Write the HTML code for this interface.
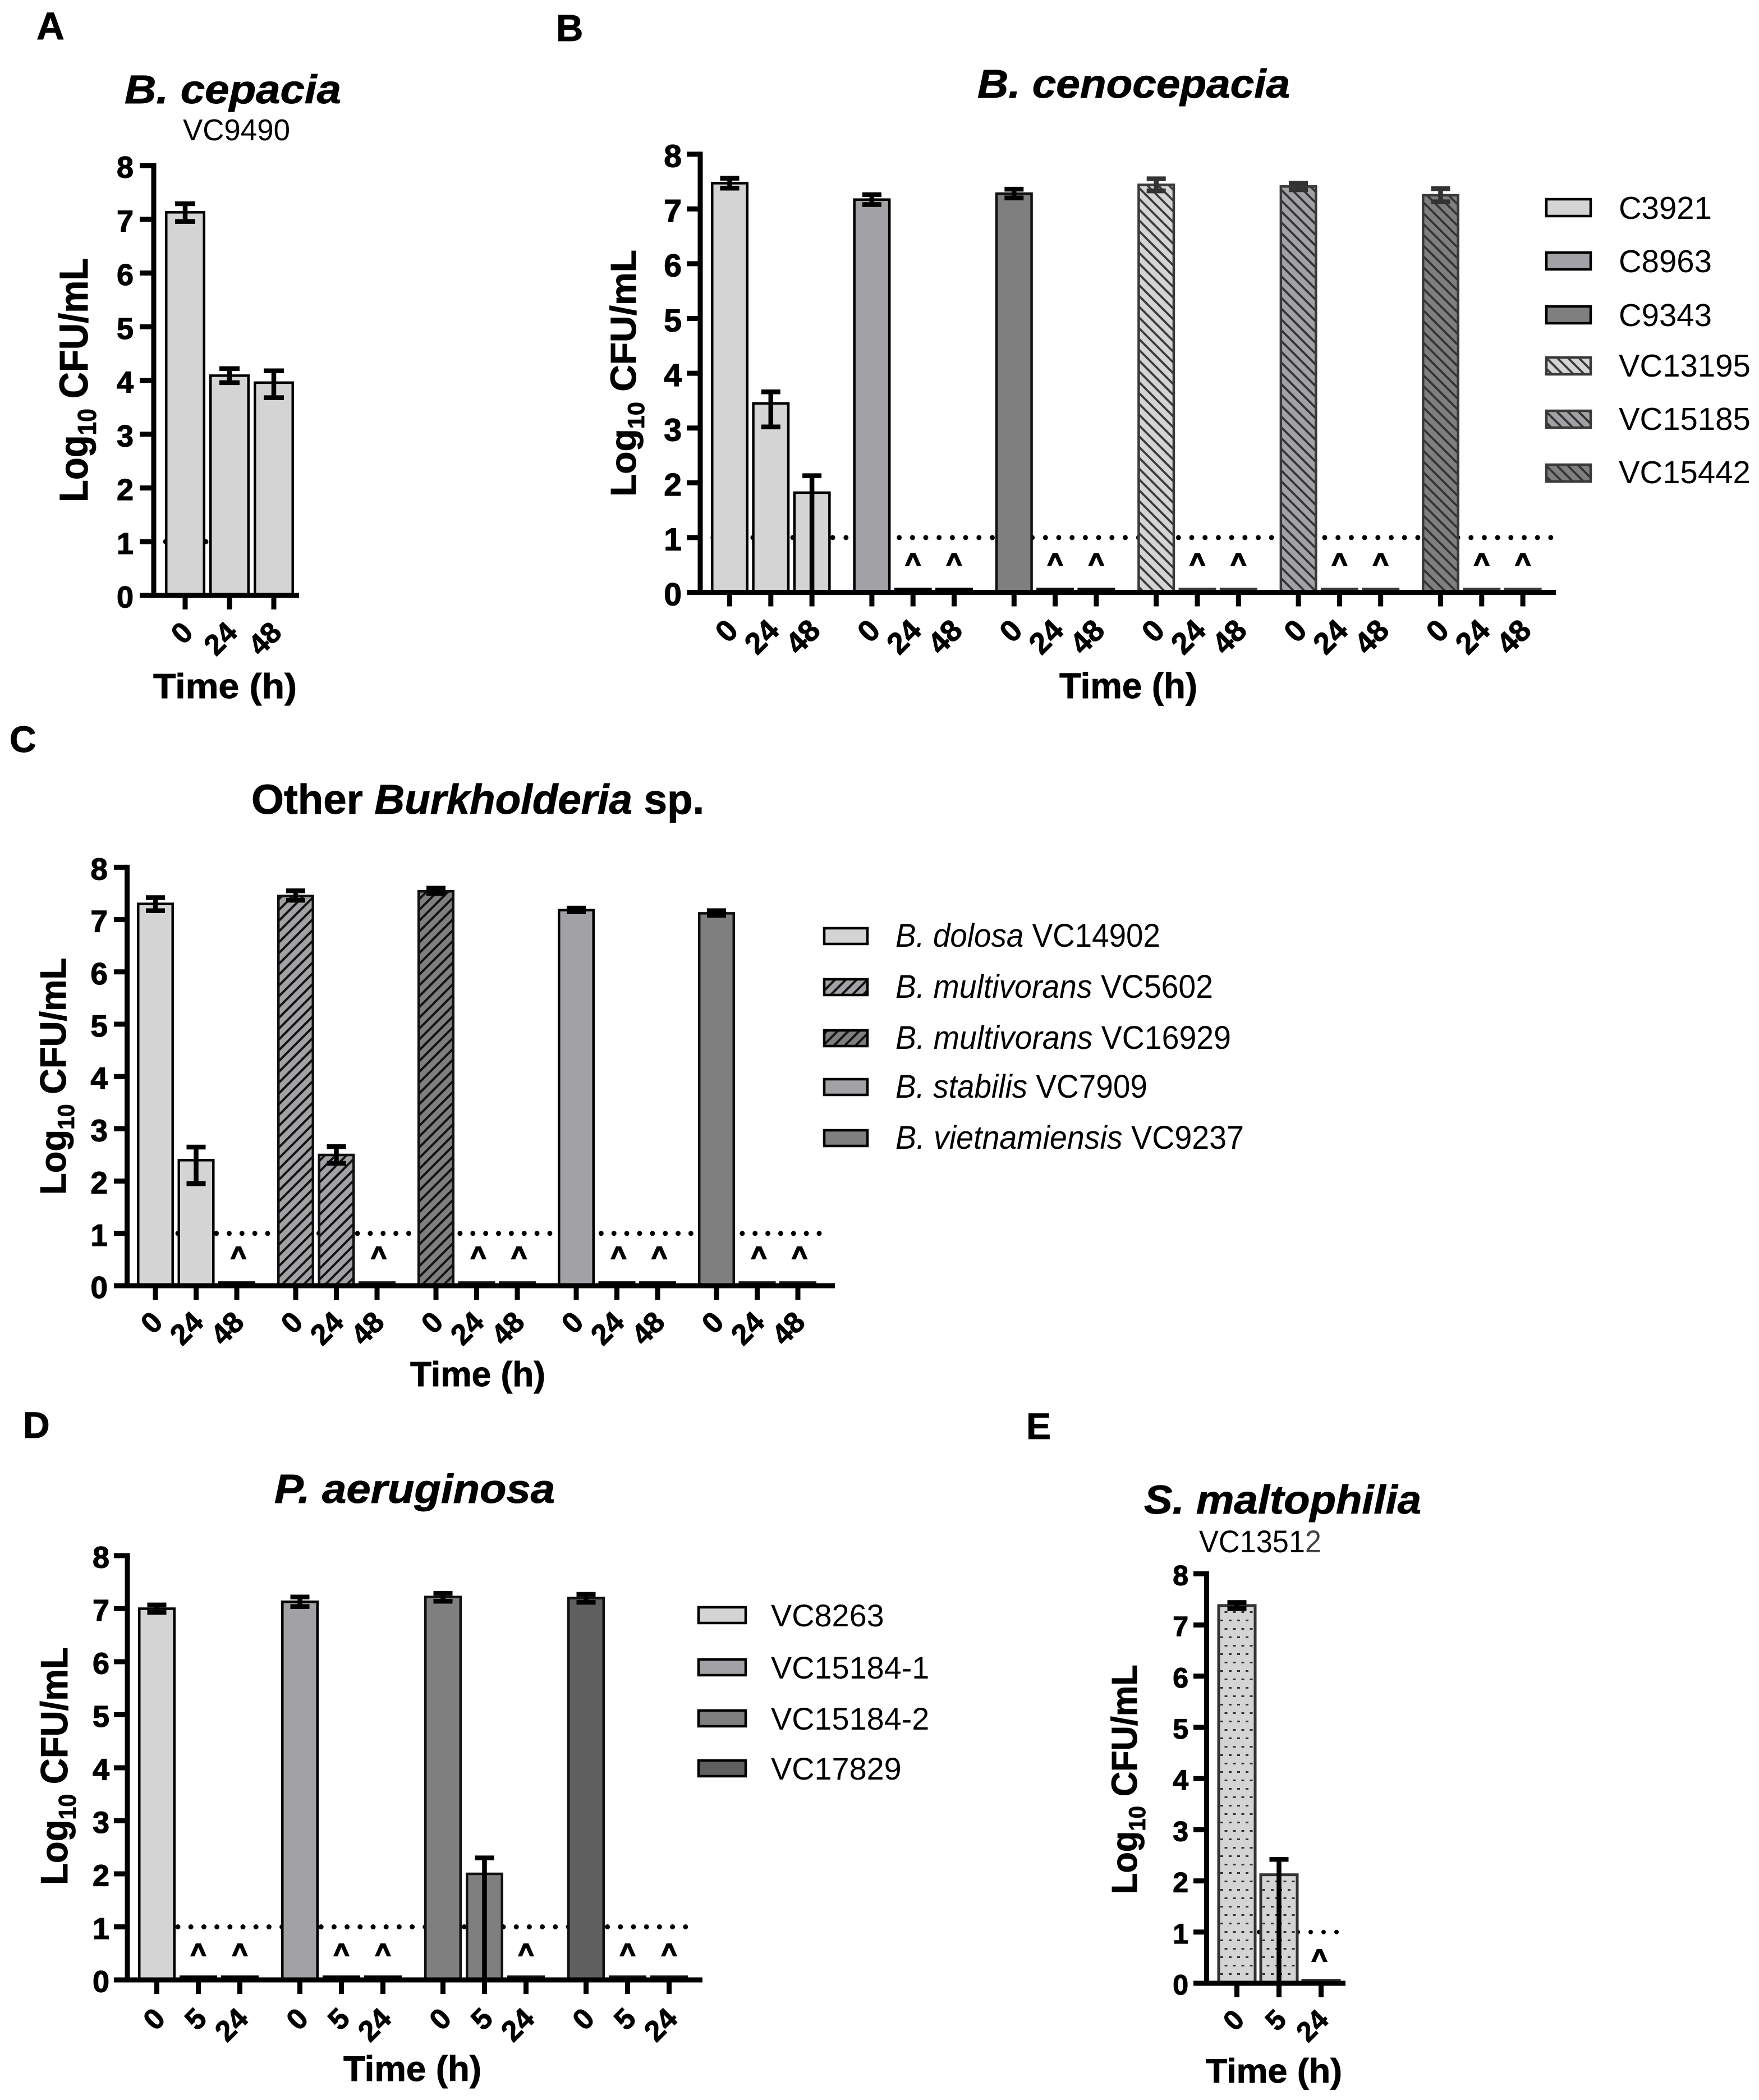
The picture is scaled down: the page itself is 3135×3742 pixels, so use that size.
<!DOCTYPE html>
<html>
<head>
<meta charset="utf-8">
<title>Log10 CFU/mL time-kill charts</title>
<style>
html,body{margin:0;padding:0;background:#fff;}
svg{display:block;font-family:"Liberation Sans",Arial,sans-serif;}
text{white-space:pre;}
.b{font-weight:bold;stroke:#000;stroke-width:.9px;}
.bi{font-weight:bold;font-style:italic;stroke:#000;stroke-width:.9px;}
.i{font-style:italic;}
tspan.bi{stroke:#000;}
</style>
</head>
<body>
<svg id="figure" xmlns="http://www.w3.org/2000/svg" width="3135" height="3742" viewBox="0 0 3135 3742">
<defs>
  <pattern id="hB1" patternUnits="userSpaceOnUse" width="13.6" height="13.6" patternTransform="rotate(-45)"><rect width="13.6" height="13.6" fill="#d4d4d4"/><rect width="3.8" height="13.6" fill="#3a3a3a"/></pattern>
  <pattern id="hB2" patternUnits="userSpaceOnUse" width="13.6" height="13.6" patternTransform="rotate(-45)"><rect width="13.6" height="13.6" fill="#a2a1a5"/><rect width="3.8" height="13.6" fill="#333"/></pattern>
  <pattern id="hB3" patternUnits="userSpaceOnUse" width="13.6" height="13.6" patternTransform="rotate(-45)"><rect width="13.6" height="13.6" fill="#7f7f7f"/><rect width="3.8" height="13.6" fill="#333"/></pattern>
  <pattern id="hC1" patternUnits="userSpaceOnUse" width="13.6" height="13.6" patternTransform="rotate(45)"><rect width="13.6" height="13.6" fill="#a2a1a5"/><rect width="4" height="13.6" fill="#111"/></pattern>
  <pattern id="hC2" patternUnits="userSpaceOnUse" width="13.6" height="13.6" patternTransform="rotate(45)"><rect width="13.6" height="13.6" fill="#7f7f7f"/><rect width="4" height="13.6" fill="#111"/></pattern>
  <pattern id="dotsE" patternUnits="userSpaceOnUse" width="15" height="30"><rect width="15" height="30" fill="#d4d4d4"/><rect x="0" y="6" width="5" height="3" fill="#333"/><rect x="7.5" y="21" width="5" height="3" fill="#333"/></pattern>
</defs>
<rect width="3135" height="3742" fill="#fff"/>

<!-- panel letters -->
<text class="b" x="65" y="70" font-size="69">A</text>
<text class="b" x="991" y="73" font-size="67">B</text>
<text class="b" x="17" y="1340" font-size="66">C</text>
<text class="b" x="41" y="2562" font-size="66">D</text>
<text class="b" x="1829" y="2564" font-size="66">E</text>

<!-- titles -->
<text class="bi" x="222" y="184" font-size="71" textLength="386" lengthAdjust="spacingAndGlyphs">B. cepacia</text>
<text x="326" y="250" font-size="54" textLength="191" lengthAdjust="spacingAndGlyphs">VC9490</text>
<text class="bi" x="1742" y="174" font-size="71" textLength="557" lengthAdjust="spacingAndGlyphs">B. cenocepacia</text>
<text class="b" x="448" y="1450" font-size="74.5">Other <tspan class="bi">Burkholderia</tspan> sp.</text>
<text class="bi" x="489" y="2678" font-size="72" textLength="500" lengthAdjust="spacingAndGlyphs">P. aeruginosa</text>
<text class="bi" x="2039" y="2697" font-size="71" textLength="494" lengthAdjust="spacingAndGlyphs">S. maltophilia</text>
<text x="2137" y="2766" font-size="56" textLength="218" lengthAdjust="spacingAndGlyphs">VC1351<tspan fill="#444">2</tspan></text>

<!-- y axis titles -->
<text class="b" font-size="71" transform="translate(156,895) rotate(-90) scale(.92,1)">Log<tspan font-size="46" dy="15">10</tspan><tspan dy="-15"> CFU/mL</tspan></text>
<text class="b" font-size="64" transform="translate(1133,885) rotate(-90) scale(1.03,1)">Log<tspan font-size="42" dy="15">10</tspan><tspan dy="-15"> CFU/mL</tspan></text>
<text class="b" font-size="65" transform="translate(117,2129) rotate(-90) scale(.975,1)">Log<tspan font-size="42" dy="15">10</tspan><tspan dy="-15"> CFU/mL</tspan></text>
<text class="b" font-size="68" transform="translate(120,3359) rotate(-90) scale(.935,1)">Log<tspan font-size="44" dy="15">10</tspan><tspan dy="-15"> CFU/mL</tspan></text>
<text class="b" font-size="64" transform="translate(2026,3375) rotate(-90) scale(.957,1)">Log<tspan font-size="42" dy="15">10</tspan><tspan dy="-15"> CFU/mL</tspan></text>

<!-- x axis titles -->
<text class="b" x="273" y="1244" font-size="62" textLength="256" lengthAdjust="spacingAndGlyphs">Time (h)</text>
<text class="b" x="1888" y="1244" font-size="64" textLength="246" lengthAdjust="spacingAndGlyphs">Time (h)</text>
<text class="b" x="731" y="2470" font-size="62" textLength="241" lengthAdjust="spacingAndGlyphs">Time (h)</text>
<text class="b" x="612" y="3708" font-size="63" textLength="246" lengthAdjust="spacingAndGlyphs">Time (h)</text>
<text class="b" x="2149" y="3711" font-size="60" textLength="243" lengthAdjust="spacingAndGlyphs">Time (h)</text>

<!-- legend B -->
<g font-size="56.3">
  <rect x="2756" y="355" width="79" height="30" fill="#d4d4d4" stroke="#000" stroke-width="4.5"/>
  <text x="2885" y="390">C3921</text>
  <rect x="2756" y="450" width="79" height="30" fill="#a2a1a5" stroke="#000" stroke-width="4.5"/>
  <text x="2885" y="485">C8963</text>
  <rect x="2756" y="546" width="79" height="30" fill="#7f7f7f" stroke="#000" stroke-width="4.5"/>
  <text x="2885" y="581">C9343</text>
  <rect x="2756" y="637" width="79" height="30" fill="url(#hB1)" stroke="#3a3a3a" stroke-width="4.5"/>
  <text x="2885" y="671">VC13195</text>
  <rect x="2756" y="732" width="79" height="30" fill="url(#hB2)" stroke="#3a3a3a" stroke-width="4.5"/>
  <text x="2885" y="766">VC15185</text>
  <rect x="2756" y="828" width="79" height="30" fill="url(#hB3)" stroke="#3a3a3a" stroke-width="4.5"/>
  <text x="2885" y="861">VC15442</text>
</g>

<!-- legend C -->
<g font-size="58">
  <rect x="1469" y="1654" width="77" height="28" fill="#d4d4d4" stroke="#000" stroke-width="4.5"/>
  <text x="1596" y="1687" textLength="472" lengthAdjust="spacingAndGlyphs"><tspan class="i">B. dolosa</tspan> VC14902</text>
  <rect x="1469" y="1745" width="77" height="28" fill="url(#hC1)" stroke="#000" stroke-width="4.5"/>
  <text x="1596" y="1778" textLength="566" lengthAdjust="spacingAndGlyphs"><tspan class="i">B. multivorans</tspan> VC5602</text>
  <rect x="1469" y="1836" width="77" height="28" fill="url(#hC2)" stroke="#000" stroke-width="4.5"/>
  <text x="1596" y="1869" textLength="598" lengthAdjust="spacingAndGlyphs"><tspan class="i">B. multivorans</tspan> VC16929</text>
  <rect x="1469" y="1923" width="77" height="28" fill="#a2a1a5" stroke="#000" stroke-width="4.5"/>
  <text x="1596" y="1956" textLength="449" lengthAdjust="spacingAndGlyphs"><tspan class="i">B. stabilis</tspan> VC7909</text>
  <rect x="1469" y="2014" width="77" height="28" fill="#7f7f7f" stroke="#000" stroke-width="4.5"/>
  <text x="1596" y="2047" textLength="621" lengthAdjust="spacingAndGlyphs"><tspan class="i">B. vietnamiensis</tspan> VC9237</text>
</g>

<!-- legend D -->
<g font-size="55.8">
  <rect x="1245" y="2864" width="84" height="28" fill="#d4d4d4" stroke="#000" stroke-width="4.5"/>
  <text x="1374" y="2898">VC8263</text>
  <rect x="1245" y="2957" width="84" height="28" fill="#a2a1a5" stroke="#000" stroke-width="4.5"/>
  <text x="1374" y="2991">VC15184-1</text>
  <rect x="1245" y="3048" width="84" height="28" fill="#7f7f7f" stroke="#000" stroke-width="4.5"/>
  <text x="1374" y="3082">VC15184-2</text>
  <rect x="1245" y="3137" width="84" height="28" fill="#5f5f5f" stroke="#000" stroke-width="4.5"/>
  <text x="1374" y="3171">VC17829</text>
</g>

<g id="plots"></g>
</svg>

<script>
// ---- shared tick labels and detection limit ----
const yTickLabels = [0, 1, 2, 3, 4, 5, 6, 7, 8];
const detectionLimit = 1;

// ---- Panel A: B. cepacia ----
const panelATimes = ['0', '24', '48'];
const panelAStyles = ['solidLight'];
const panelAValues = [7.13, 4.09, 3.96];
const panelAHigh = [7.29, 4.22, 4.18];
const panelALow = [6.96, 3.96, 3.68];

// ---- Panel B: B. cenocepacia ----
const panelBTimes = ['0', '24', '48'];
const panelBStyles = ['solidLight', 'solidMid', 'solidDark', 'hatchB1', 'hatchB2', 'hatchB3'];
const panelBValues = [7.47, 3.45, 1.82, 7.17, 0.06, 0.06, 7.28, 0.06, 0.06, 7.44, 0.06, 0.06, 7.41, 0.06, 0.06, 7.25, 0.06, 0.06];
const panelBHigh = [7.56, 3.66, 2.13, 7.26, null, null, 7.36, null, null, 7.55, null, null, 7.47, null, null, 7.37, null, null];
const panelBLow = [7.38, 3.02, 0, 7.08, null, null, 7.2, null, null, 7.33, null, null, 7.35, null, null, 7.13, null, null];

// ---- Panel C: other Burkholderia ----
const panelCTimes = ['0', '24', '48'];
const panelCStyles = ['solidLight', 'hatchC1', 'hatchC2', 'solidMid', 'solidDark'];
const panelCValues = [7.3, 2.4, 0.06, 7.45, 2.5, 0.06, 7.54, 0.06, 0.06, 7.18, 0.06, 0.06, 7.12, 0.06, 0.06];
const panelCHigh = [7.42, 2.65, null, 7.55, 2.66, null, 7.6, null, null, 7.22, null, null, 7.17, null, null];
const panelCLow = [7.17, 1.95, null, 7.37, 2.34, null, 7.5, null, null, 7.15, null, null, 7.08, null, null];

// ---- Panel D: P. aeruginosa ----
const panelDTimes = ['0', '5', '24'];
const panelDStyles = ['solidLight', 'solidMid', 'solidDark', 'solidDarkest'];
const panelDValues = [7.0, 0.06, 0.06, 7.13, 0.06, 0.06, 7.22, 2.0, 0.06, 7.2, 0.06, 0.06];
const panelDHigh = [7.07, null, null, 7.22, null, null, 7.29, 2.3, null, 7.27, null, null];
const panelDLow = [6.93, null, null, 7.04, null, null, 7.14, 0, null, 7.12, null, null];

// ---- Panel E: S. maltophilia ----
const panelETimes = ['0', '5', '24'];
const panelEStyles = ['dotted'];
const panelEValues = [7.38, 2.12, 0.06];
const panelEHigh = [7.44, 2.42, null];
const panelELow = [7.32, 0, null];

const barStyles = {
  solidLight: { fill: '#d4d4d4', stroke: '#000', err: '#000' },
  solidMid: { fill: '#a2a1a5', stroke: '#000', err: '#000' },
  solidDark: { fill: '#7f7f7f', stroke: '#111', err: '#000' },
  solidDarkest: { fill: '#5f5f5f', stroke: '#111', err: '#000' },
  hatchB1: { fill: 'url(#hB1)', stroke: '#3a3a3a', err: '#333' },
  hatchB2: { fill: 'url(#hB2)', stroke: '#3a3a3a', err: '#333' },
  hatchB3: { fill: 'url(#hB3)', stroke: '#3a3a3a', err: '#333' },
  hatchC1: { fill: 'url(#hC1)', stroke: '#111', err: '#000' },
  hatchC2: { fill: 'url(#hC2)', stroke: '#111', err: '#000' },
  dotted: { fill: 'url(#dotsE)', stroke: '#333', err: '#000' }
};

const SVGNS = 'http://www.w3.org/2000/svg';
const plots = document.getElementById('plots');

function svgEl(parent, tag, attrs) {
  const el = document.createElementNS(SVGNS, tag);
  for (const k in attrs) el.setAttribute(k, attrs[k]);
  parent.appendChild(el);
  return el;
}

function drawPanel(id, layout, times, styles, values, high, low) {
  const yScale = v => layout.y0 - v * layout.unit;
  const xScale = i => layout.x0 + Math.floor(i / times.length) * layout.groupStep + (i % times.length) * layout.step;

  const g = svgEl(plots, 'g', {});
  
  

  // detection limit line, behind the bars
  const limit = svgEl(g, 'line', {
    x1: layout.lodStart, x2: layout.lodEnd, y1: yScale(detectionLimit), y2: yScale(detectionLimit),
    stroke: '#000', 'stroke-width': layout.dotSize, 'stroke-linecap': 'round', 'stroke-dasharray': '0 ' + layout.dotGap
  });
  
  

  // bars
  values.forEach((v, i) => {
    const cx = xScale(i);
    const style = barStyles[styles[Math.floor(i / times.length)]];
    const sw = layout.barStroke;
    const bar = svgEl(g, 'rect', {
      x: cx - layout.barWidth / 2 + sw / 2,
      y: yScale(v),
      width: layout.barWidth - sw,
      height: layout.y0 - yScale(v),
      fill: style.fill,
      stroke: style.stroke,
      'stroke-width': sw
    });
    
    
  });

  // error bars
  values.forEach((v, i) => {
    if (high[i] === null) return;
    const cx = xScale(i);
    const style = barStyles[styles[Math.floor(i / times.length)]];
    const err = svgEl(g, 'path', {
      d: 'M' + cx + ' ' + yScale(high[i]) + 'V' + yScale(low[i]) +
         'M' + (cx - layout.capWidth / 2) + ' ' + yScale(high[i]) + 'h' + layout.capWidth +
         'M' + (cx - layout.capWidth / 2) + ' ' + yScale(low[i]) + 'h' + layout.capWidth,
      stroke: style.err, 'stroke-width': 8.5, fill: 'none'
    });
    
    
  });

  // below-limit markers
  values.forEach((v, i) => {
    if (v >= 0.5) return;
    const caret = svgEl(g, 'text', {
      x: xScale(i) + layout.caretDx, y: layout.y0 - layout.caretLift,
      'font-size': layout.caretSize, 'font-weight': 'bold', 'text-anchor': 'middle',
      stroke: '#000', 'stroke-width': 2.2
    });
    caret.textContent = '^';
    
    
  });

  // axes
  const axis = svgEl(g, 'path', {
    d: 'M' + layout.axisX + ' ' + (yScale(8) - 4.5) + 'V' + (layout.y0 + 4.5) +
       'M' + layout.tickLeft + ' ' + layout.y0 + 'H' + layout.axisEnd,
    stroke: '#000', 'stroke-width': 9, fill: 'none'
  });
  
  

  // y ticks
  yTickLabels.forEach(t => {
    const tick = svgEl(g, 'line', {
      x1: layout.tickLeft, x2: layout.axisX, y1: yScale(t), y2: yScale(t), stroke: '#000', 'stroke-width': 9
    });
    
    
    const label = svgEl(g, 'text', {
      x: layout.yLabelRight, y: yScale(t) + layout.yLabelSize * 0.4,
      'font-size': layout.yLabelSize, 'font-weight': 'bold', 'text-anchor': 'end',
      stroke: '#000', 'stroke-width': 1.2
    });
    label.textContent = t;
    
    
  });

  // x ticks
  values.forEach((v, i) => {
    const cx = xScale(i);
    const tick = svgEl(g, 'line', {
      x1: cx, x2: cx, y1: layout.y0, y2: layout.y0 + 25, stroke: '#000', 'stroke-width': 9
    });
    
    
    const ax = cx + layout.xLabelDx;
    const ay = layout.y0 + layout.xLabelDy;
    const label = svgEl(g, 'text', {
      x: ax, y: ay, 'font-size': layout.xLabelSize, 'font-weight': 'bold', 'text-anchor': 'end',
      stroke: '#000', 'stroke-width': 1,
      transform: 'rotate(-45 ' + ax + ' ' + ay + ')'
    });
    label.textContent = times[i % times.length];
    
    
  });
}

drawPanel('a', { y0: 1061, unit: 95.75, x0: 330, step: 79, groupStep: 0, barWidth: 72, barStroke: 4.5, capWidth: 36,
  axisX: 274, tickLeft: 249, axisEnd: 533, yLabelRight: 238, yLabelSize: 54, xLabelDx: 17, xLabelDy: 69, xLabelSize: 52,
  lodStart: 295, lodEnd: 525, dotGap: 24, dotSize: 9, caretDx: 0, caretLift: 36, caretSize: 48 },
  panelATimes, panelAStyles, panelAValues, panelAHigh, panelALow);

drawPanel('b', { y0: 1055.5, unit: 97.6, x0: 1300.5, step: 73.3, groupStep: 253.4, barWidth: 67, barStroke: 4.5, capWidth: 34,
  axisX: 1248, tickLeft: 1224, axisEnd: 2773, yLabelRight: 1215, yLabelSize: 57, xLabelDx: 18, xLabelDy: 71, xLabelSize: 54,
  lodStart: 1270.8, lodEnd: 2768, dotGap: 23.7, dotSize: 9, caretDx: 0, caretLift: 36, caretSize: 48 },
  panelBTimes, panelBStyles, panelBValues, panelBHigh, panelBLow);

drawPanel('c', { y0: 2291, unit: 93.2, x0: 277, step: 72.5, groupStep: 250, barWidth: 66, barStroke: 4.5, capWidth: 34,
  axisX: 226.5, tickLeft: 203, axisEnd: 1488, yLabelRight: 192, yLabelSize: 55, xLabelDx: 16, xLabelDy: 68, xLabelSize: 52,
  lodStart: 317, lodEnd: 1476, dotGap: 22.86, dotSize: 9, caretDx: 3, caretLift: 36, caretSize: 48 },
  panelCTimes, panelCStyles, panelCValues, panelCHigh, panelCLow);

drawPanel('d', { y0: 3528, unit: 94.5, x0: 279.5, step: 74, groupStep: 255, barWidth: 67, barStroke: 4.5, capWidth: 34,
  axisX: 227, tickLeft: 203, axisEnd: 1252, yLabelRight: 195, yLabelSize: 54, xLabelDx: 18, xLabelDy: 72, xLabelSize: 52,
  lodStart: 317, lodEnd: 1236, dotGap: 23.2, dotSize: 9, caretDx: 0, caretLift: 31, caretSize: 48 },
  panelDTimes, panelDStyles, panelDValues, panelDHigh, panelDLow);

drawPanel('e', { y0: 3534, unit: 91.2, x0: 2204.5, step: 75, groupStep: 0, barWidth: 70, barStroke: 5, capWidth: 34,
  axisX: 2150.5, tickLeft: 2127, axisEnd: 2398, yLabelRight: 2118, yLabelSize: 50, xLabelDx: 16, xLabelDy: 68, xLabelSize: 50,
  lodStart: 2175, lodEnd: 2391, dotGap: 23, dotSize: 8, caretDx: -3, caretLift: 27, caretSize: 48 },
  panelETimes, panelEStyles, panelEValues, panelEHigh, panelELow);
</script>
</body>
</html>
